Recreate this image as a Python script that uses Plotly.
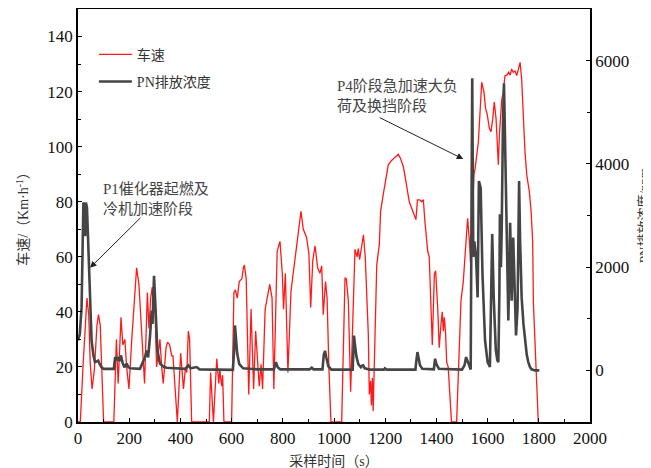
import plotly.graph_objects as go

# ---- data ----
speed_t = [0, 9, 20, 29, 35, 42, 48, 55, 64, 74, 80, 87, 94, 100,
           140, 150, 157, 168, 175, 183, 190, 199, 210, 220, 229, 238, 246, 255, 260, 271, 277, 284, 290, 295, 300, 307,
           314, 320, 327, 333, 344, 350, 358, 366, 371, 380, 388, 401, 412, 420, 425, 431, 436, 444,
           513, 518, 523, 529, 542, 550, 554, 561, 565, 570,
           600, 609, 615, 622, 630, 640, 646, 650, 657, 661, 667, 676, 686, 694, 702, 708, 715, 721, 731, 738, 749, 758,
           765, 778, 789, 798, 803, 810, 820, 832, 845, 854, 863, 871, 880, 893, 902, 909, 917, 926, 936, 945, 952, 958,
           967, 973, 980, 988,
           1030, 1043, 1048, 1056, 1065, 1075, 1082, 1090, 1095, 1100, 1108, 1115, 1122, 1128, 1134, 1138, 1143, 1146,
           1150, 1153, 1160, 1167, 1177, 1182, 1193, 1203, 1212, 1225, 1245, 1251, 1260, 1271, 1281, 1294, 1303, 1310,
           1320, 1326, 1335, 1342, 1349, 1355, 1366, 1372, 1379, 1384, 1392, 1397, 1405, 1411, 1418, 1423, 1427, 1431,
           1436, 1440, 1446, 1453, 1459,
           1479, 1486, 1496, 1505, 1512, 1518, 1522, 1529, 1533, 1540, 1547, 1551, 1564, 1577, 1586, 1592, 1598, 1607,
           1613, 1620, 1626, 1633, 1638, 1642, 1646, 1651, 1655, 1661, 1668, 1675, 1682, 1688, 1694, 1700, 1707, 1714,
           1720, 1727, 1733, 1739, 1746, 1753, 1763, 1770, 1776, 1779, 1792, 1798]
speed_v = [0, 0, 21, 35, 45, 39, 21, 12, 19, 35, 39, 35, 18, 0,
           0, 30, 14, 38, 28, 30, 20, 12, 30, 45, 56, 50, 35, 20, 14, 47, 34, 45, 49, 40, 44, 20,
           25, 30, 20, 14, 27, 29, 28, 24, 24, 10, 0, 25, 12, 20, 18, 33, 30, 0,
           0, 18, 10, 0, 23, 14, 19, 13, 17, 0,
           0, 47, 48, 45, 51, 52, 56, 57, 52, 30, 10, 41, 12, 33, 23, 13, 21, 12, 41, 45, 50, 45,
           12, 62, 65.6, 54, 41, 54, 18, 47.6, 57, 63, 71, 76.5, 70, 67, 61, 41.6, 58.5, 64, 56, 54, 56.7, 39,
           51, 45, 20, 0,
           0, 52.4, 52, 44, 11, 39, 62.7, 60, 63, 59, 63.3, 68, 60, 45, 32, 10, 15, 6,
           16, 4, 32, 57, 64.5, 76.5, 83, 88.5, 93.4, 95, 96.5, 97.2, 95.7, 92.7, 87.3, 80, 77.7, 76,
           73.5, 80.7, 80.7, 80, 80.7, 72.9, 62, 60, 44, 28, 53.7, 54.9, 41.6, 27, 35.6, 40, 33, 38,
           32, 21.8, 20, 8, 0,
           0, 17.6, 44, 51, 59.7, 70.5, 74, 65.7, 58, 75, 90, 92, 101.8, 123.4, 119.8, 113.8, 112, 106.6,
           105.4, 110, 116.2, 110.2, 100, 93.4, 104.2, 111, 116.8, 119.8, 125.8, 126, 127, 126, 128.2, 127, 127.5, 125.8,
           128, 130.6, 124.6, 111.4, 98.2, 89.7, 83.7, 76.5, 65.7, 43, 13, 0]

pn_t = [0, 7, 14, 18, 21, 25, 28, 31, 35, 39, 43, 48, 53, 60, 66, 72, 79, 85, 92, 100,
        140, 145, 151, 157, 162, 168, 174, 181, 190, 197, 205, 242, 255, 262, 268, 274, 281, 288, 291, 297, 301, 305,
        310, 320, 335, 346, 420, 431, 440, 463, 475, 605, 610, 613, 617, 622, 630, 645, 700, 765, 770, 773, 780, 790,
        905, 913, 920, 955, 960, 965, 970, 978, 990, 1073, 1076, 1078, 1083, 1088, 1095, 1105, 1110, 1114, 1120, 1140,
        1195, 1199, 1205, 1318, 1322, 1326, 1330, 1336, 1345, 1390, 1393, 1395, 1400, 1410, 1500, 1510, 1516, 1521,
        1529, 1534, 1537, 1540, 1544, 1548, 1555, 1561, 1566, 1573, 1580, 1590, 1600, 1609, 1614, 1618, 1624, 1632,
        1638, 1642, 1646, 1648, 1652, 1655, 1660, 1664, 1668, 1671, 1676, 1681, 1685, 1688, 1691, 1694, 1700, 1705,
        1711, 1717, 1720, 1723, 1727, 1733, 1740, 1746, 1753, 1759, 1766, 1772, 1785, 1802]
pn_v = [580, 700, 1220, 2500, 3250, 3200, 2600, 3250, 3150, 2600, 1990, 1030, 580, 300, 160, 170, 190, 120, 60, 30,
        30, 257, 200, 257, 180, 290, 150, 60, 130, 60, 40, 30, 193, 260, 386, 250, 643, 1157, 900, 1833, 1400, 1029,
        400, 130, 70, 52, 30, 96, 40, 64, 20, 10, 400, 870, 600, 321, 120, 40, 20, 20, 100, 160, 60, 20,
        20, 50, 20, 20, 300, 380, 250, 80, 15, 15, 400, 675, 450, 257, 120, 60, 90, 96, 40, 15,
        15, 40, 15, 15, 200, 354, 250, 100, 30, 20, 150, 225, 120, 30, 15, 100, 257, 180,
        60, 15, 3000, 5660, 2200, 2500, 2186, 1414, 3666, 3536, 1865, 579, 160, 64, 1500, 2640, 1400, 400,
        193, 160, 1500, 3023, 2000, 2700, 4800, 5560, 4500, 3794, 2500, 965, 2000, 2861, 2200, 1350, 2572, 1400,
        675, 1200, 2800, 3666, 2500, 1414, 900, 579, 300, 160, 60, 20, 0, 0]

x_ticks = [0, 200, 400, 600, 800, 1000, 1200, 1400, 1600, 1800, 2000]
y_ticks = [0, 20, 40, 60, 80, 100, 120, 140]
y2_ticks = [0, 2000, 4000, 6000]

serif = "Liberation Serif, Noto Sans CJK SC, serif"

fig = go.Figure()
fig.add_trace(go.Scatter(x=speed_t, y=speed_v, mode="lines", name="车速",
                         line=dict(color="#ff1a1a", width=1.3), legendgroup="a"))
fig.add_trace(go.Scatter(x=pn_t, y=pn_v, mode="lines", name="PN排放浓度", yaxis="y2",
                         line=dict(color="#454545", width=2.6), legendgroup="b"))

axis_common = dict(showline=True, linecolor="black", linewidth=1.5, ticks="inside", ticklen=4,
                   tickcolor="black", showgrid=False, zeroline=False, automargin=False,
                   tickfont=dict(family=serif, size=17, color="#111"))
title_font = dict(family=serif, size=14, color="#333")

# the page body has an 8px default margin, so the figure is sized to fit the 651x468 window
fig.update_layout(
    width=643, height=461,
    margin=dict(l=70, r=61, t=1, b=47),
    paper_bgcolor="white", plot_bgcolor="white",
    xaxis=dict(range=[0, 2000], tickvals=x_ticks, mirror=True,
               minor=dict(ticks="inside", ticklen=3, dtick=100, tickcolor="black"),
               title=dict(text="采样时间（s）", font=title_font),
               **axis_common),
    yaxis=dict(range=[0, 150], tickvals=y_ticks,
               minor=dict(ticks="inside", ticklen=3, dtick=10, tickcolor="black"),
               title=dict(text="车速/（Km·h<sup>-1</sup>）", font=title_font),
               **axis_common),
    yaxis2=dict(range=[-1000, 7000], tickvals=y2_ticks, overlaying="y", side="right",
                minor=dict(ticks="inside", ticklen=3, dtick=1000, tickcolor="black"),
                title=dict(text="PN排放浓度/ppm", font=dict(family=serif, size=13, color="#333")),
                **axis_common),
    showlegend=True,
    legend=dict(x=0.031, y=0.928, xanchor="left", yanchor="top", bgcolor="rgba(0,0,0,0)",
                font=dict(family=serif, size=14, color="#333"), tracegroupgap=6, itemwidth=33),
)

fig.add_annotation(x=90, y=81.2, xref="x", yref="y", text="P1催化器起燃及<br>冷机加速阶段",
                   showarrow=False, xanchor="left", yanchor="middle", align="left",
                   font=dict(family=serif, size=15, color="#444"))
fig.add_annotation(x=47, y=56, ax=250, ay=74.7, xref="x", yref="y", axref="x", ayref="y", text="",
                   showarrow=True, arrowhead=2, arrowsize=1.3, arrowwidth=1, arrowcolor="#222")
fig.add_annotation(x=1004, y=118.4, xref="x", yref="y", text="P4阶段急加速大负<br>荷及换挡阶段",
                   showarrow=False, xanchor="left", yanchor="middle", align="left",
                   font=dict(family=serif, size=15, color="#444"))
fig.add_annotation(x=1505, y=95.5, ax=1173, ay=110.8, xref="x", yref="y", axref="x", ayref="y", text="",
                   showarrow=True, arrowhead=2, arrowsize=1.3, arrowwidth=1, arrowcolor="#222")

fig.write_html("out.html")
